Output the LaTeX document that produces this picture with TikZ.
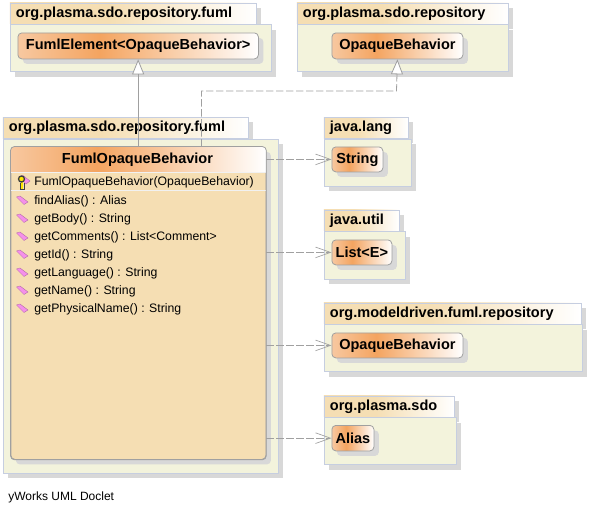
\documentclass[tikz,border=0pt]{standalone}
\usepackage{fontspec}
\setmainfont{Liberation Sans}
\usetikzlibrary{arrows.meta, positioning, shadows}
\definecolor{pkgline}{HTML}{C6CEE0}
\definecolor{pkgfill}{HTML}{F3F3DC}
\definecolor{shadowgray}{HTML}{D8D8D8}
\definecolor{classline}{HTML}{A0A0A0}
\definecolor{classfill}{HTML}{F5DEB3}
\definecolor{headleft}{HTML}{F7C8A0}
\definecolor{headmid}{HTML}{F4A460}
\definecolor{methodpink}{HTML}{F590EA}
\pgfdeclarehorizontalshading{tabshade}{100bp}{color(0bp)=(classfill); color(45bp)=(classfill); color(75bp)=(white); color(100bp)=(white)}
\pgfdeclarehorizontalshading{classshade}{100bp}{color(0bp)=(headleft); color(25bp)=(headleft); color(42bp)=(headmid); color(75bp)=(white); color(100bp)=(white)}
\newcommand{\pkg}[7]{%
    \node [pkgtab, minimum width=#4*0.75pt, text width=#4*0.75pt-9pt] (#1tab) at (#2,#3) {#7};
    \node [pkgbody, minimum width=#5*0.75pt, minimum height=#6*0.75pt, below=0pt of #1tab.south west, anchor=north west] (#1) {};
}
\newcommand{\umlclass}[6]{%
    \node [classframe, shading=classshade, minimum width=#4*0.75pt, minimum height=#5*0.75pt] (#1) at (#2,#3) {#6};
}
\tikzset{
    pkgtab/.style={draw=pkgline, line width=0.6pt, shading=tabshade, anchor=north west, minimum height=15.75pt, inner xsep=4.5pt, inner ysep=0pt, font=\fontsize{10.9}{12}\selectfont\bfseries, align=left, drop shadow={shadow xshift=3.75pt, shadow yshift=-3.75pt, opacity=1, fill=shadowgray}},
    pkgbody/.style={draw=pkgline, line width=0.6pt, fill=pkgfill, inner sep=0pt, drop shadow={shadow xshift=3.75pt, shadow yshift=-3.75pt, opacity=1, fill=shadowgray}},
    classframe/.style={draw=classline, line width=0.6pt, rounded corners=3pt, anchor=north west, inner sep=0pt, font=\fontsize{10.9}{12}\selectfont\bfseries, drop shadow={shadow xshift=3.75pt, shadow yshift=-3.75pt, opacity=1, fill=shadowgray}},
    member/.style={anchor=west, inner sep=0pt, font=\fontsize{9.2}{11}\selectfont},
    generalize/.style={draw=classline, line width=0.6pt, -{Triangle[open, fill=white, length=11.25pt, width=9pt]}},
    depend/.style={draw=classline, line width=0.6pt, dash pattern=on 5.5pt off 2pt, -{Straight Barb[length=11.25pt, width=8pt, line width=0.5pt]}},
    methodicon/.style={fill=methodpink, draw=methodpink!70!black, line width=0.25pt}
}
\begin{document}
\begin{tikzpicture}[x=0.75pt, y=-0.75pt]
    \useasboundingbox (0,0) rectangle (589,514);
    \fill [white] (0,0) rectangle (589,514);
    % packages
    \pkg{fumlup}{9.5}{2.5}{246.5}{261.5}{47}{org.plasma.sdo.repository.fuml}
    \pkg{repo}{296.5}{2.5}{211}{211}{47}{org.plasma.sdo.repository}
    \pkg{fuml}{2.5}{117}{245.5}{275.5}{334}{org.plasma.sdo.repository.fuml}
    \pkg{lang}{323.5}{117}{84}{87}{47}{java.lang}
    \pkg{util}{323.5}{209.5}{75}{81}{47.5}{java.util}
    \pkg{mdriven}{323.5}{302.5}{257}{258}{47}{org.modeldriven.fuml.repository}
    \pkg{sdo}{323.5}{395.5}{130}{132}{47}{org.plasma.sdo}
    % classes
    \umlclass{element}{17.5}{32.5}{240.5}{26}{FumlElement<OpaqueBehavior>}
    \umlclass{behavior}{331.5}{32.5}{131}{26}{OpaqueBehavior}
    \umlclass{string}{331.5}{146.5}{51}{25}{String}
    \umlclass{list}{331.5}{239.5}{60}{25}{List<E>}
    \umlclass{mbehavior}{331.5}{332.5}{131}{25}{OpaqueBehavior}
    \umlclass{alias}{331.5}{425}{42}{25.5}{Alias}
    \node [classframe, fill=classfill, minimum width=255*0.75pt, minimum height=312.5*0.75pt] (main) at (10.5,146.5) {};
    \begin{scope}
        \clip [rounded corners=3pt] (main.north west) rectangle (main.south east);
        \shade [shading=classshade] (10.5,146.5) rectangle (265.5,172);
        \draw [white!85!classline] (10.5,172) -- (265.5,172);
        \draw [white!85!classline] (10.5,190.5) -- (265.5,190.5);
    \end{scope}
    \draw [classline, line width=0.6pt, rounded corners=3pt] (main.north west) rectangle (main.south east);
    \node [font=\fontsize{10.9}{12}\selectfont\bfseries, inner sep=0pt] (mainname) at (137.5,159.5) {FumlOpaqueBehavior};
    % constructor and methods
    \node [member] (ctor) at (34,182) {FumlOpaqueBehavior(OpaqueBehavior)};
    \path [methodicon] (19,177) -- (23,175.5) -- (30,181) -- (26,184) -- cycle;
    \draw [yellow!90!orange, line width=1.6pt] (22,182) -- (22,188.5);
    \draw [black!75, line width=0.5pt] (20.5,182.5) -- (20.5,189) -- (24,189) -- (24,182.5);
    \draw [fill=yellow!90!orange, draw=black!75, line width=1pt] (21.5,179) circle (3);
    \foreach \y/\txt in {201/findAlias() : Alias, 219/getBody() : String, 237/getComments() : List<Comment>, 255/getId() : String, 273/getLanguage() : String, 291/getName() : String, 309/getPhysicalName() : String} {
        \node [member] at (34,\y) {\txt};
        \path [methodicon] (16.5,\y-4) -- (20,\y-5) -- (28,\y+1) -- (24,\y+3.5) -- cycle;
    }
    % connectors
    \draw [generalize] (main.north -| element.south) -- (element.south);
    \coordinate (bendA) at (201.5,91);
    \coordinate (bendB) at (396.5,91);
    \draw [generalize, dash pattern=on 5.5pt off 2pt] (bendA |- main.north) -- (bendA) -- (bendB) -- (behavior.south);
    \draw [depend] (main.east |- string.west) -- (string.west);
    \draw [depend] (main.east |- list.west) -- (list.west);
    \draw [depend] (main.east |- mbehavior.west) -- (mbehavior.west);
    \draw [depend] (main.east |- alias.west) -- (alias.west);
    \node [anchor=west, inner sep=0pt, font=\fontsize{9}{10}\selectfont] (credit) at (8,497) {yWorks UML Doclet};
\end{tikzpicture}
\end{document}
